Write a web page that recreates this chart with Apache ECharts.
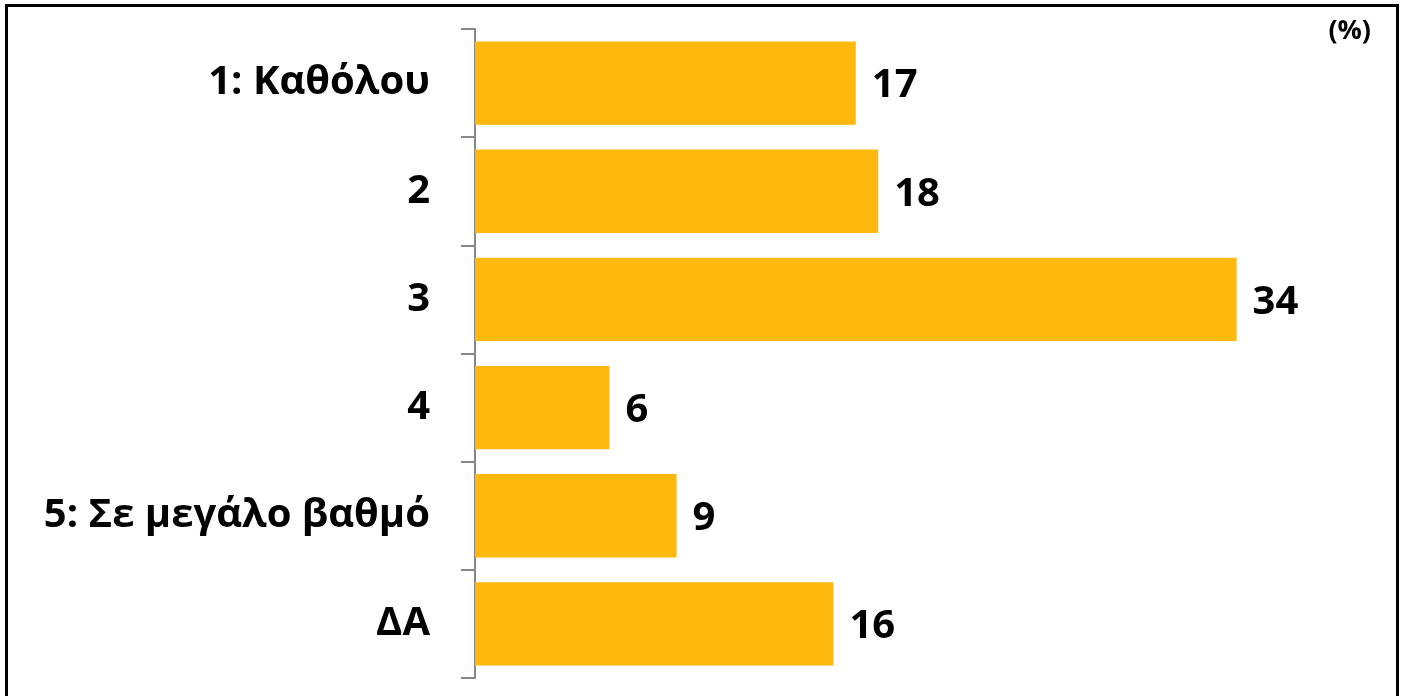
<!DOCTYPE html>
<html>
<head>
<meta charset="utf-8">
<script src="https://cdn.jsdelivr.net/npm/echarts@6/dist/echarts.min.js"></script>
<style>
  html, body { margin: 0; padding: 0; background: #fff; }
  #frame { position: absolute; left: 5px; top: 4px; width: 1394px; height: 700px; border: 3px solid #000; border-bottom: none; box-sizing: border-box; }
  #chart { position: absolute; left: 0; top: 0; width: 1405px; height: 696px; }
</style>
</head>
<body>
<div id="frame"></div>
<div id="chart"></div>
<script>
// Response categories, top to bottom
const categories = ['1: Καθόλου', '2', '3', '4', '5: Σε μεγάλο βαθμό', 'ΔΑ'];
// Share of respondents (%)
const values = [17, 18, 34, 6, 9, 16];
const unitLabel = '(%)';

const FONT = '"Open Sans", "DejaVu Sans", sans-serif';
const chart = echarts.init(document.getElementById('chart'), null, { renderer: 'canvas' });

chart.setOption({
  backgroundColor: 'transparent',
  animation: false,
  grid: { left: 475, top: 29, width: 896, height: 649, containLabel: false },
  graphic: [{
    type: 'text', right: 34, top: 18,
    style: { text: unitLabel, font: 'bold 27px ' + FONT, fill: '#000' }
  }],
  xAxis: {
    type: 'value', min: 0, max: 40,
    show: false
  },
  yAxis: {
    type: 'category',
    data: categories,
    inverse: true,
    axisLine: { show: true, lineStyle: { color: '#888', width: 2 } },
    axisTick: { show: true, length: 14, lineStyle: { color: '#888', width: 2 } },
    axisLabel: { margin: 45, padding: [7, 0, 0, 0], color: '#000', fontFamily: FONT, fontWeight: 'bold', fontSize: 40 },
    splitLine: { show: false }
  },
  series: [{
    type: 'bar',
    data: values,
    barCategoryGap: '23%',
    itemStyle: { color: '#FFB80D' },
    label: {
      show: true, position: 'right', distance: 16, offset: [0, 3],
      color: '#000', fontFamily: FONT, fontWeight: 'bold', fontSize: 40
    }
  }]
});
</script>
</body>
</html>
